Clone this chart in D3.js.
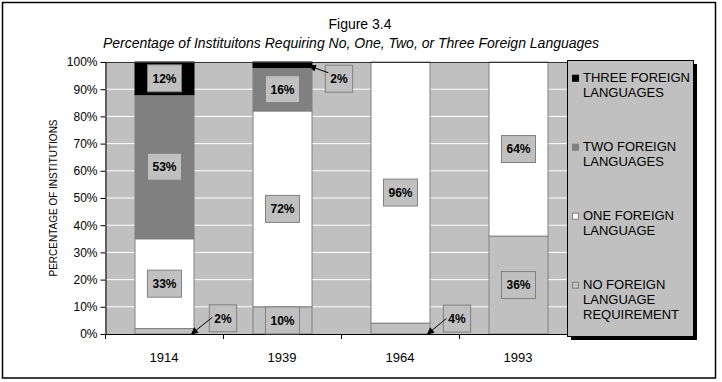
<!DOCTYPE html>
<html>
<head>
<meta charset="utf-8">
<script src="https://cdn.jsdelivr.net/npm/d3@7"></script>
<style>
  html, body { margin: 0; padding: 0; background: #fff; }
  svg { display: block; font-family: Arial, "Liberation Sans", sans-serif; }
</style>
</head>
<body>
<svg id="chart" width="722" height="382"></svg>
<script>
// ---- data ----
const years = ["1914", "1939", "1964", "1993"];
const seriesKeys = ["none", "one", "two", "three"];
const seriesNames = [
  "NO FOREIGN\nLANGUAGE\nREQUIREMENT",
  "ONE FOREIGN\nLANGUAGE",
  "TWO FOREIGN\nLANGUAGES",
  "THREE FOREIGN\nLANGUAGES"
];
const noneValues  = [2, 10, 4, 36];
const oneValues   = [33, 72, 96, 64];
const twoValues   = [53, 16, 0, 0];
const threeValues = [12, 2, 0, 0];
const yTicks = [0, 10, 20, 30, 40, 50, 60, 70, 80, 90, 100];
const titleText = "Figure 3.4";
const subtitleText = "Percentage of Instituitons Requiring No, One, Two, or Three Foreign Languages";
const yTitle = "PERCENTAGE OF INSTITUTIONS";

// callout labels for thin segments (offsets in px, tip in data units)
const callouts = [
  { year: "1914", key: "none",  dx: 29.5, dy: -13, tipV: 0,    startDy: -1 },
  { year: "1939", key: "three", dx: 27.5, dy: 14,  tipV: 98.5, startDy: -6 },
  { year: "1964", key: "none",  dx: 27.5, dy: -10, tipV: 0,    startDy: 0 }
];

// ---- styles ----
const colors = { none: "#C0C0C0", one: "#FFFFFF", two: "#808080", three: "#000000" };
const plotBg = "#C0C0C0";
const edge = "#808080";

const svg = d3.select("#chart");
const W = 722, H = 382;
const plot = { left: 105, right: 577, top: 62, bottom: 334 };

// outer frame
svg.append("rect").attr("x", 2.5).attr("y", 2.5).attr("width", 713).attr("height", 375.5)
  .attr("fill", "#fff").attr("stroke", "#000").attr("stroke-width", 1.5);

// defs: arrowhead
svg.append("defs").append("marker")
  .attr("id", "arrow").attr("viewBox", "0 0 10 10").attr("refX", 9).attr("refY", 5)
  .attr("markerWidth", 9).attr("markerHeight", 7).attr("markerUnits", "userSpaceOnUse")
  .attr("orient", "auto")
  .append("path").attr("d", "M0,0 L10,5 L0,10 Z").attr("fill", "#000");

// titles
svg.append("text").attr("x", 360).attr("y", 29).attr("text-anchor", "middle")
  .attr("font-size", 14).text(titleText);
svg.append("text").attr("x", 351).attr("y", 48).attr("text-anchor", "middle")
  .attr("font-size", 14).attr("font-style", "italic").text(subtitleText);

// scales
const x = d3.scaleBand().domain(years).range([plot.left, plot.right])
  .paddingInner(0.5).paddingOuter(0.25);
const y = d3.scaleLinear().domain([0, 100]).range([plot.bottom, plot.top]);

// plot background
svg.append("rect").attr("x", plot.left).attr("y", plot.top)
  .attr("width", plot.right - plot.left).attr("height", plot.bottom - plot.top)
  .attr("fill", plotBg);

// gridlines
svg.append("g").selectAll("line").data(yTicks.filter(t => t > 0 && t < 100)).join("line")
  .attr("x1", plot.left).attr("x2", plot.right)
  .attr("y1", d => y(d)).attr("y2", d => y(d))
  .attr("stroke", "#fff").attr("stroke-width", 1);

// stacked data
const table = years.map((yr, i) => ({
  year: yr, none: noneValues[i], one: oneValues[i], two: twoValues[i], three: threeValues[i]
}));
const stacked = d3.stack().keys(seriesKeys)(table);

const bars = svg.append("g");
stacked.forEach(layer => {
  bars.append("g").selectAll("rect").data(layer.filter(d => d[1] - d[0] > 0)).join("rect")
    .attr("x", d => x(d.data.year) + 0.5)
    .attr("width", x.bandwidth())
    .attr("y", d => y(d[1]))
    .attr("height", d => y(d[0]) - y(d[1]))
    .attr("fill", colors[layer.key])
    .attr("stroke", layer.key === "three" ? "#000" : edge)
    .attr("stroke-width", 1);
});

// top border of plot
svg.append("line").attr("x1", plot.left).attr("x2", plot.right)
  .attr("y1", plot.top + 0.5).attr("y2", plot.top + 0.5)
  .attr("stroke", "#333").attr("stroke-width", 1.2);

// y axis
const yAxis = svg.append("g").attr("transform", `translate(${plot.left + 0.5},0)`)
  .call(d3.axisLeft(y).tickValues(yTicks).tickFormat(d => d + "%")
    .tickSize(5).tickSizeOuter(0).tickPadding(3));
yAxis.selectAll("text").attr("font-size", 12).attr("font-family", "Arial, 'Liberation Sans', sans-serif").attr("fill", "#000");
yAxis.selectAll("line,path").attr("stroke", "#000");

// x axis line + boundary ticks
const step = x.step();
const boundaries = d3.range(years.length + 1).map(i => plot.left + i * step);
svg.append("line").attr("x1", plot.left).attr("x2", plot.right)
  .attr("y1", plot.bottom + 0.5).attr("y2", plot.bottom + 0.5).attr("stroke", "#000");
svg.append("g").selectAll("line").data(boundaries).join("line")
  .attr("x1", d => Math.round(d) + 0.5).attr("x2", d => Math.round(d) + 0.5)
  .attr("y1", plot.bottom).attr("y2", plot.bottom + 5).attr("stroke", "#000");
const xAxis = svg.append("g").attr("transform", `translate(0,${plot.bottom})`)
  .call(d3.axisBottom(x).tickSize(0).tickPadding(19));
xAxis.select(".domain").remove();
xAxis.selectAll("text").attr("font-size", 13).attr("font-family", "Arial, 'Liberation Sans', sans-serif").attr("fill", "#000");

// y title
svg.append("text").attr("transform", `translate(56.5,198) rotate(-90)`)
  .attr("text-anchor", "middle").attr("font-size", 10).text(yTitle);

// data labels
const labelG = svg.append("g");
function drawLabel(cx, cy, text) {
  const t = labelG.append("text").attr("x", cx).attr("y", cy + 4.3)
    .attr("text-anchor", "middle").attr("font-size", 12).attr("font-weight", "bold").text(text);
  const w = t.node().getComputedTextLength() + 10;
  labelG.insert("rect", () => t.node())
    .attr("x", cx - w / 2).attr("y", cy - 13.5).attr("width", w).attr("height", 27)
    .attr("fill", plotBg).attr("stroke", edge).attr("stroke-width", 1);
  return w;
}
stacked.forEach(layer => {
  layer.forEach(d => {
    const v = d[1] - d[0];
    if (v <= 0) return;
    const yr = d.data.year;
    const co = callouts.find(c => c.year === yr && c.key === layer.key);
    const barRight = x(yr) + x.bandwidth();
    const midY = y((d[0] + d[1]) / 2);
    if (co) {
      const cx = barRight + co.dx, cy = midY + co.dy;
      const w = drawLabel(cx, cy, v + "%");
      labelG.append("line")
        .attr("x1", cx - w / 2 + 3).attr("y1", cy + co.startDy)
        .attr("x2", barRight - 2).attr("y2", y(co.tipV))
        .attr("stroke", "#000").attr("stroke-width", 1)
        .attr("marker-end", "url(#arrow)");
    } else {
      drawLabel(x(yr) + x.bandwidth() / 2 + 0.5, midY, v + "%");
    }
  });
});

// legend
const lg = { x: 567, y: 60, w: 126, h: 276 };
svg.append("rect").attr("x", lg.x + 4).attr("y", lg.y + 4).attr("width", lg.w).attr("height", lg.h)
  .attr("fill", "#000");
svg.append("rect").attr("x", lg.x + 0.5).attr("y", lg.y + 0.5).attr("width", lg.w).attr("height", lg.h)
  .attr("fill", plotBg).attr("stroke", "#000").attr("stroke-width", 1);
const legendOrder = seriesKeys.map((k, i) => ({ key: k, name: seriesNames[i] })).reverse();
const itemG = svg.append("g").selectAll("g").data(legendOrder).join("g")
  .attr("transform", (d, i) => `translate(${lg.x}, ${77.7 + i * 69})`);
itemG.append("rect").attr("x", 5.5).attr("y", -2.5).attr("width", 6).attr("height", 6)
  .attr("fill", d => colors[d.key])
  .attr("stroke", d => (d.key === "three" ? "#000" : d.key === "two" ? "#808080" : edge));
itemG.each(function(d) {
  const t = d3.select(this).append("text").attr("font-size", 13).attr("fill", "#000");
  d.name.split("\n").forEach((line, j) => {
    t.append("tspan").attr("x", 16).attr("y", 4.7 + j * 15).text(line);
  });
});
</script>
</body>
</html>
